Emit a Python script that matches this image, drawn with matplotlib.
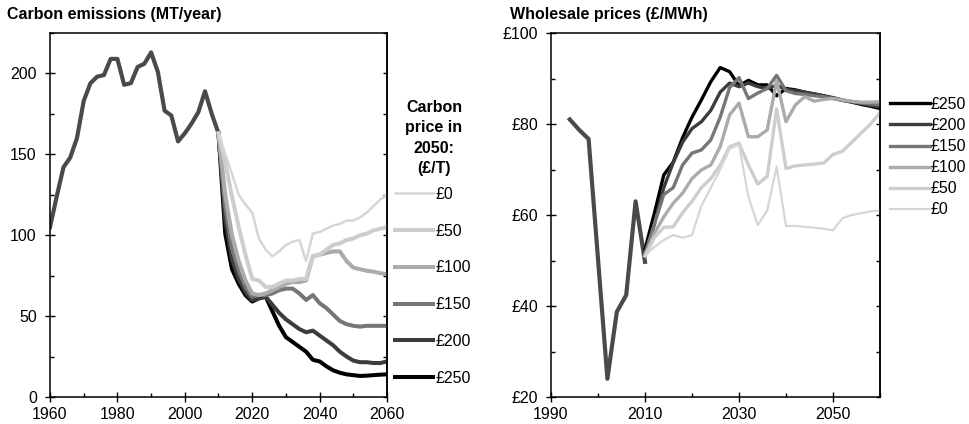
import matplotlib
matplotlib.use("Agg")
import matplotlib.pyplot as plt
from matplotlib.ticker import MultipleLocator, FuncFormatter

plt.rcParams['font.family'] = ['Liberation Sans', 'DejaVu Sans']

# Datos - emisiones historicas
hist_years = [1960, 1962, 1964, 1966, 1968, 1970, 1972, 1974, 1976, 1978, 1980,
              1982, 1984, 1986, 1988, 1990, 1992, 1994, 1996, 1998, 2000, 2002,
              2004, 2006, 2008, 2010]
hist_emis = [105, 124, 142, 148, 160, 183, 194, 198, 199, 209, 209,
             193, 194, 204, 206, 213, 201, 177, 174, 158, 163, 169,
             176, 189, 175, 163]

# escenarios 2010-2060 cada 2 años
scen_years = list(range(2010, 2061, 2))
emis_0 = [163, 150, 138, 125, 119, 114, 98, 91, 87, 90, 94, 96, 97, 84, 101,
          102, 104, 106, 107, 109, 109, 111, 114, 118, 122, 125]
emis_50 = [163, 145, 124, 105, 88, 73, 72, 68, 68, 70, 72, 72, 73, 73, 87,
           88, 91, 94, 95, 97, 98, 100, 101, 103, 104, 105]
emis_100 = [163, 125, 100, 84, 72, 64, 63, 64, 66, 68, 70, 71, 71, 72, 87,
            88, 89, 90, 90, 84, 80, 79, 78, 77.5, 76.5, 76]
emis_150 = [163, 118, 92, 78, 68, 62, 63, 63, 64, 66, 67, 67, 64, 60, 63,
            58, 55, 51, 47, 45, 44, 43.5, 44, 44, 44, 44]
emis_200 = [163, 110, 85, 73, 65, 60, 61, 62, 57, 52, 48, 45, 42, 40, 41,
            38, 35, 32, 28, 25, 22.5, 21.5, 21.5, 21, 21, 22]
emis_250 = [163, 101, 79, 70, 63, 59, 61, 62, 53, 44, 37, 34, 31, 28, 23,
            22, 19, 16.5, 15, 14, 13.5, 13, 13.2, 13.5, 13.8, 14]

# precios mayoristas
price_hist_years = [1994, 1996, 1998, 2002, 2004, 2006, 2008, 2010]
price_hist = [81, 78.7, 76.7, 24, 38.7, 42.4, 63, 49.7]
price_0 = [51, 53, 54.5, 55.6, 55, 55.6, 62, 66, 70, 74.5, 75.5, 64, 57.8, 61,
           70.6, 57.6, 57.6, 57.4, 57.2, 57, 56.6, 59.3, 60, 60.4, 60.8, 61]
price_50 = [51, 55, 57.3, 57.4, 60.5, 63, 66, 68, 71, 75, 75.8, 71, 66.8, 68.5,
            83.3, 70.2, 70.8, 71, 71.2, 71.4, 73.3, 74, 76, 78, 80, 82.5]
price_100 = [51, 56, 59.6, 62.6, 64.8, 68, 69.9, 71, 75, 82, 84.6, 77.2, 77.2,
             78.7, 89.5, 80.5, 84.2, 86, 85, 85.4, 85.6, 85.3, 85, 84.8, 84.8, 84.9]
price_150 = [51.5, 58, 64.5, 66, 71, 73.6, 74.3, 76.5, 81.5, 88, 90.2, 85.6,
             86.8, 87.8, 90.7, 87.3, 86.7, 86.5, 86.2, 86, 85.6, 85.2, 84.9,
             84.6, 84.4, 84.2]
price_200 = [51, 58, 66, 71.5, 76, 79, 80.5, 83, 87, 89, 88.2, 89, 88.2, 87.8,
             88.5, 87.6, 87.3, 87, 86.6, 86.2, 85.8, 85.3, 84.9, 84.5, 84.1, 83.8]
price_250 = [52.5, 60.4, 68.8, 71.6, 77, 81.5, 85.3, 89.3, 92.4, 91.5, 88.4,
             89.6, 88.6, 88.6, 86.2, 87.8, 87.5, 87, 86.6, 86.2, 85.7, 85.2,
             84.8, 84.3, 83.9, 83.4]

labels = ['£250', '£200', '£150', '£100', '£50', '£0']
colores = ['#000000', '#3c3c3c', '#767676', '#ababab', '#cdcdcd', '#d6d6d6']
emis = [emis_250, emis_200, emis_150, emis_100, emis_50, emis_0]
precios = [price_250, price_200, price_150, price_100, price_50, price_0]
hist_color = '#4a4a4a'

fig = plt.figure(figsize=(9.7, 4.24), dpi=100)
W, H = 970, 424
ax1 = fig.add_axes([50 / W, 27 / H, 337 / W, 364 / H])
ax2 = fig.add_axes([551 / W, 27 / H, 329 / W, 364 / H])


def estilo(ax):
    ax.tick_params(which='major', direction='inout', length=7, width=1,
                   labelsize=11.5, top=False, right=False)
    ax.tick_params(which='minor', direction='in', length=3, width=1,
                   top=False, right=False)
    ax.tick_params(axis='y', which='major', pad=6)
    ax.tick_params(axis='x', which='major', pad=4)
    for s in ax.spines.values():
        s.set_linewidth(1.1)
    # ticks hacia dentro en el eje derecho
    sec = ax.secondary_yaxis('right')
    sec.yaxis.set_major_locator(ax.yaxis.get_minor_locator())
    sec.tick_params(direction='in', length=3, width=1, labelright=False)
    sec.spines['right'].set_linewidth(1.1)


# Grafica izquierda - emisiones
ax1.plot(hist_years, hist_emis, color=hist_color, lw=3)
handles1 = []
for lab, col, ys in zip(labels, colores, emis):
    lw = 1.8 if lab == '£0' else 2.9
    h, = ax1.plot(scen_years, ys, color=col, lw=lw, label=lab)
    handles1.append(h)
ax1.set_xlim(1960, 2060)
ax1.set_ylim(0, 225)
ax1.xaxis.set_major_locator(MultipleLocator(20))
ax1.xaxis.set_minor_locator(MultipleLocator(10))
ax1.yaxis.set_major_locator(MultipleLocator(50))
ax1.yaxis.set_minor_locator(MultipleLocator(25))
estilo(ax1)

fig.text(7 / W, 1 - 15 / H, 'Carbon emissions (MT/year)', fontsize=11.5,
         fontweight='bold', va='center', ha='left')

# titulo de la leyenda aparte
fig.text(434 / W, 1 - 138 / H, 'Carbon\nprice in\n2050:\n(£/T)',
         fontsize=11.5, fontweight='bold', ha='center', va='center',
         linespacing=1.45)
leg1 = fig.legend(handles1[::-1], labels[::-1], loc='upper left',
                  bbox_to_anchor=(395 / W, 1 - 187 / H), frameon=False,
                  fontsize=11.5, handlelength=2.4, handletextpad=0.15,
                  labelspacing=1.36, borderpad=0, borderaxespad=0)

# Grafica derecha - precios
ax2.plot(price_hist_years, price_hist, color=hist_color, lw=3)
handles2 = []
for lab, col, ys in zip(labels, colores, precios):
    lw = 1.6 if lab == '£0' else 2.4
    h, = ax2.plot(scen_years, ys, color=col, lw=lw, label=lab)
    handles2.append(h)
ax2.set_xlim(1990, 2060)
ax2.set_ylim(20, 100)
ax2.set_xticks([1990, 2010, 2030, 2050])
ax2.set_xticks([2000, 2020, 2040, 2060], minor=True)
ax2.yaxis.set_major_locator(MultipleLocator(20))
ax2.yaxis.set_minor_locator(MultipleLocator(10))
ax2.yaxis.set_major_formatter(FuncFormatter(lambda v, p: '£%d' % v))
estilo(ax2)

fig.text(510 / W, 1 - 15 / H, 'Wholesale prices (£/MWh)', fontsize=11.5,
         fontweight='bold', va='center', ha='left')

leg2 = fig.legend(handles2, labels, loc='upper left',
                  bbox_to_anchor=(890 / W, 1 - 97 / H), frameon=False,
                  fontsize=11.5, handlelength=2.5, handletextpad=0.05,
                  labelspacing=0.38, borderpad=0, borderaxespad=0)

fig.savefig('out.png', dpi=100)
